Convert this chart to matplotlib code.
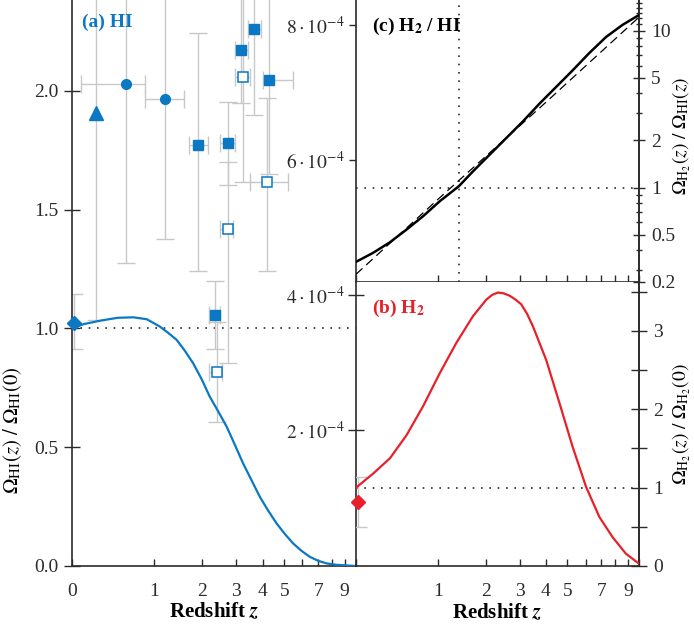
import numpy as np
import matplotlib
matplotlib.use('Agg')
import matplotlib.pyplot as plt
from matplotlib.ticker import FixedLocator, FixedFormatter, NullFormatter

plt.rcParams['font.family'] = ['Liberation Serif', 'DejaVu Serif']
plt.rcParams['mathtext.fontset'] = 'stix'
plt.rcParams['font.size'] = 14

BLUE = '#0A78C2'
RED = '#E8202A'
GREY = '#C8C8C8'
INK = '#2b2b2b'

# ---- (a) HI : model curve, Omega_HI(z)/Omega_HI(0)
z_hi = [0, 0.1, 0.27, 0.47, 0.68, 0.88, 1.10, 1.25, 1.42, 1.59, 1.78, 1.99,
        2.20, 2.44, 2.69, 2.96, 3.24, 3.55, 3.88, 4.24, 4.62, 5.03, 5.47,
        5.94, 6.44, 6.99, 7.57, 8.32, 10]
r_hi = [1.0, 1.018, 1.033, 1.045, 1.047, 1.039, 1.008, 0.982, 0.952, 0.907,
        0.854, 0.786, 0.713, 0.650, 0.587, 0.509, 0.432, 0.362, 0.292, 0.233,
        0.180, 0.135, 0.095, 0.064, 0.039, 0.022, 0.011, 0.005, 0.0]

# observations (ratio, lower/upper error, redshift range)
dia_z, dia_r, dia_dn, dia_up = [0.015], [1.024], [0.112], [0.122]
tri_z, tri_r, tri_dn, tri_up = [0.227], [1.906], [0.87], [0.87]
cir_z = [0.58, 1.20]
cir_r = [2.028, 1.965]
cir_err = [0.753, 0.587]
cir_zlo = [0.08, 0.86]
cir_zhi = [0.85, 1.58]
sq_z = [1.89, 2.73, 3.15, 3.64, 4.27, 2.34]
sq_r = [1.773, 1.780, 2.173, 2.261, 2.046, 1.057]
sq_dn = [0.53, 0.175, 0.225, 0.362, 0.395, 0.145]
sq_up = [0.471, 0.175, 0.225, 0.362, 0.395, 0.145]
sq_zlo = [1.69, 2.48, 2.95, 3.42, 4.02, 2.18]
sq_zhi = [2.16, 2.95, 3.42, 3.95, 5.47, 2.48]
osq_z = [4.17, 3.24, 2.73, 2.41]
osq_r = [1.618, 2.057, 1.419, 0.818]
osq_dn = [0.375, 0.44, 0.566, 0.21]
osq_up = [0.354, 0.44, 0.28, 0.21]
osq_zlo = [3.49, 2.95, 2.48, 2.18]
osq_zhi = [5.20, 3.49, 2.89, 2.56]

# ---- (b) H2 : Omega_H2(z)/Omega_H2(0)
z_h2 = [0, 0.157, 0.333, 0.535, 0.766, 1.033, 1.342, 1.696, 2.018, 2.169, 2.327,
        2.493, 2.673, 2.865, 3.055, 3.259, 3.477, 4.01, 4.607, 5.27, 6.024,
        6.862, 7.79, 8.85, 10]
r_h2 = [1.0, 1.18, 1.375, 1.67, 2.04, 2.46, 2.85, 3.19, 3.40, 3.46, 3.49,
        3.48, 3.45, 3.40, 3.34, 3.22, 3.06, 2.63, 2.08, 1.52, 1.01,
        0.626, 0.369, 0.156, 0.03]
h2_obs_z, h2_obs_r, h2_obs_err = [0.015], [0.818], [0.32]

# ---- (c) H2 / HI
z_rat = [0, 0.157, 0.333, 0.535, 0.766, 1.033, 1.39, 1.696, 2.103, 2.573, 3.112,
         3.735, 4.45, 5.27, 6.22, 7.32, 8.57, 10]
rat = [0.336, 0.384, 0.448, 0.540, 0.657, 0.818, 1.02, 1.27, 1.62, 2.07, 2.64,
       3.43, 4.38, 5.59, 7.21, 9.12, 10.9, 12.6]
z_pl = [0, 1, 2, 4, 10]
r_pl = [0.28, 0.84, 1.58, 3.5, 12.2]
z_equal = 1.39

omega_h20 = 1.156e-4

z_ticks = [0, 1, 2, 3, 4, 5, 7, 9]
z_minor = [6, 8, 10]


def fwd(z):
    return np.log10(1 + np.asarray(z, dtype=float))


def inv(u):
    return 10 ** np.asarray(u, dtype=float) - 1


def setup_x(ax, labels):
    ax.set_xscale('function', functions=(fwd, inv))
    ax.set_xlim(0, 10)
    ax.xaxis.set_major_locator(FixedLocator(z_ticks))
    ax.xaxis.set_minor_locator(FixedLocator(z_minor))
    if labels is None:
        ax.xaxis.set_major_formatter(NullFormatter())
    else:
        ax.xaxis.set_major_formatter(FixedFormatter(labels))
    ax.xaxis.set_minor_formatter(NullFormatter())
    ax.tick_params(axis='x', which='both', direction='in', length=5, width=1,
                   color=INK, pad=12, labelsize=14, top=False)


def style_spines(ax, show):
    for side, sp in ax.spines.items():
        sp.set_visible(side in show)
        sp.set_color(INK)
        sp.set_linewidth(1.2)


fig = plt.figure(figsize=(6.94, 6.28), dpi=100)
W, H = 694.0, 628.0
ax_a = fig.add_axes([72 / W, (H - 566) / H, 284 / W, 566 / H])
ax_c = fig.add_axes([356 / W, (H - 282) / H, 283 / W, 282 / H])
ax_b = fig.add_axes([356 / W, (H - 566) / H, 283 / W, 284 / H])

# ---------------- panel (a)
setup_x(ax_a, [str(v) for v in z_ticks])
style_spines(ax_a, ['left', 'bottom'])
ax_a.set_ylim(0, 2.383)
ax_a.yaxis.set_major_locator(FixedLocator([0, 0.5, 1.0, 1.5, 2.0]))
ax_a.yaxis.set_major_formatter(FixedFormatter(['0.0', '0.5', '1.0', '1.5', '2.0']))
ax_a.tick_params(axis='y', direction='inout', length=11, width=1, color=INK,
                 labelsize=14, pad=4)
ax_a.axhline(1.0, color=INK, lw=1.2, ls=(0, (1, 4)), zorder=1)

eb = dict(fmt='none', ecolor=GREY, elinewidth=1, capsize=6.5, capthick=1, zorder=2)
ax_a.errorbar(dia_z, dia_r, yerr=[dia_dn, dia_up], **eb)
ax_a.errorbar(tri_z, tri_r, yerr=[tri_dn, tri_up], **eb)
ax_a.errorbar(cir_z, cir_r, yerr=cir_err,
              xerr=[np.subtract(cir_z, cir_zlo), np.subtract(cir_zhi, cir_z)], **eb)
ax_a.errorbar(sq_z, sq_r, yerr=[sq_dn, sq_up],
              xerr=[np.subtract(sq_z, sq_zlo), np.subtract(sq_zhi, sq_z)], **eb)
ax_a.errorbar(osq_z, osq_r, yerr=[osq_dn, osq_up],
              xerr=[np.subtract(osq_z, osq_zlo), np.subtract(osq_zhi, osq_z)], **eb)

ax_a.plot(z_hi, r_hi, color=BLUE, lw=1.6, zorder=3)
ax_a.plot(dia_z, dia_r, 'D', color=BLUE, ms=7, zorder=4, clip_on=False)
ax_a.plot(tri_z, tri_r, '^', color=BLUE, ms=10, zorder=4)
ax_a.plot(cir_z, cir_r, 'o', color=BLUE, ms=7, zorder=4)
ax_a.plot(sq_z, sq_r, 's', color=BLUE, ms=7, zorder=4)
ax_a.plot(osq_z, osq_r, 's', mfc='white', mec=BLUE, mew=1.1, ms=7, zorder=4)

ax_a.text(0.035, 0.953, '(a) HI', transform=ax_a.transAxes, color=BLUE,
          fontweight='bold', fontsize=14, ha='left', va='baseline')
ax_a.set_ylabel(r'$\Omega_{\rm HI}(z)\ /\ \Omega_{\rm HI}(0)$', fontsize=15)
ax_a.yaxis.set_label_coords(-0.17, 0.24)
ax_a.set_xlabel(r'Redshift $\mathbfit{z}$', fontweight='bold', fontsize=15)
ax_a.xaxis.set_label_coords(0.5, -0.062)
ax_a.xaxis.label.set_va('top')

# ---------------- panel (c)
setup_x(ax_c, None)
style_spines(ax_c, ['left', 'bottom', 'right'])
ax_c.set_ylim(4.19e-4, 8.37e-4)
ax_c.yaxis.set_major_locator(FixedLocator([6e-4, 8e-4]))
ax_c.yaxis.set_major_formatter(FixedFormatter([r'$6\cdot10^{-4}$', r'$8\cdot10^{-4}$']))
ax_c.tick_params(axis='y', direction='out', length=5, width=1, color=INK,
                 labelsize=14, pad=3)

ax_c2 = ax_c.twinx()
style_spines(ax_c2, ['right'])
ax_c2.set_yscale('log')
ax_c2.set_ylim(0.25, 15.7)
ax_c2.yaxis.set_major_locator(FixedLocator([0.25, 0.5, 1, 2, 5, 10]))
ax_c2.yaxis.set_major_formatter(FixedFormatter(['0.2', '0.5', '1', '2', '5', '10']))
ax_c2.yaxis.set_minor_locator(FixedLocator([0.3, 0.4, 0.6, 0.7, 0.8, 0.9, 3, 4,
                                            6, 7, 8, 9, 11, 12, 13, 14, 15]))
ax_c2.yaxis.set_minor_formatter(NullFormatter())
ax_c2.tick_params(axis='y', which='major', direction='inout', length=9, width=1,
                  color=INK, labelsize=14, pad=4)
ax_c2.tick_params(axis='y', which='minor', direction='inout', length=5, width=1,
                  color=INK)
ax_c2.axhline(1.0, color=INK, lw=1.2, ls=(0, (1, 4)), zorder=1)
ax_c2.axvline(z_equal, color=INK, lw=1.2, ls=(0, (1, 4)), zorder=1)
ax_c2.plot(z_rat, rat, color='black', lw=1.8, zorder=3)
ax_c2.plot(z_pl, r_pl, color='black', lw=0.9, ls=(0, (7, 4)), zorder=3)
ax_c2.text(0.055, 0.891, r'(c) H$_\mathbf{2}$ / HI', transform=ax_c2.transAxes,
           color='black', fontweight='bold', fontsize=14, ha='left', va='baseline')
ax_c2.set_ylabel(r'$\Omega_{\rm H_2}(z)\ /\ \Omega_{\rm HI}(z)$', fontsize=14)
ax_c2.yaxis.set_label_coords(1.112, 0.52)

# ---------------- panel (b)
setup_x(ax_b, [''] + [str(v) for v in z_ticks[1:]])
style_spines(ax_b, ['left', 'bottom', 'right'])
ax_b.set_ylim(0, 4.19e-4)
ax_b.yaxis.set_major_locator(FixedLocator([2e-4, 4e-4]))
ax_b.yaxis.set_major_formatter(FixedFormatter([r'$2\cdot10^{-4}$', r'$4\cdot10^{-4}$']))
ax_b.tick_params(axis='y', direction='inout', length=11, width=1, color=INK,
                 labelsize=14, pad=3)

ax_b2 = ax_b.twinx()
style_spines(ax_b2, ['right'])
ax_b2.set_ylim(0, 4.19e-4 / omega_h20)
ax_b2.yaxis.set_major_locator(FixedLocator([0, 1, 2, 3]))
ax_b2.yaxis.set_major_formatter(FixedFormatter(['0', '1', '2', '3']))
ax_b2.yaxis.set_minor_locator(FixedLocator([0.5, 1.5, 2.5, 3.5]))
ax_b2.tick_params(axis='y', which='both', direction='inout', length=12, width=1,
                  color=INK, labelsize=14, pad=4)
ax_b2.axhline(1.0, color=INK, lw=1.2, ls=(0, (1, 4)), zorder=1)
ax_b2.errorbar(h2_obs_z, h2_obs_r, yerr=h2_obs_err, **eb)
ax_b2.plot(z_h2, r_h2, color=RED, lw=1.6, zorder=3)
ax_b2.plot(h2_obs_z, h2_obs_r, 'D', color=RED, ms=7, zorder=4, clip_on=False)
ax_b2.text(0.055, 0.892, r'(b) H$_\mathbf{2}$', transform=ax_b2.transAxes,
           color=RED, fontweight='bold', fontsize=14, ha='left', va='baseline')
ax_b2.set_ylabel(r'$\Omega_{\rm H_2}(z)\ /\ \Omega_{\rm H_2}(0)$', fontsize=14)
ax_b2.yaxis.set_label_coords(1.112, 0.5)
ax_b.set_xlabel(r'Redshift $\mathbfit{z}$', fontweight='bold', fontsize=15)
ax_b.xaxis.set_label_coords(0.5, -0.13)
ax_b.xaxis.label.set_va('top')

for a in (ax_a, ax_b, ax_c, ax_b2, ax_c2):
    for lab in a.get_xticklabels() + a.get_yticklabels():
        lab.set_color(INK)

fig.savefig('out.png', dpi=100)
